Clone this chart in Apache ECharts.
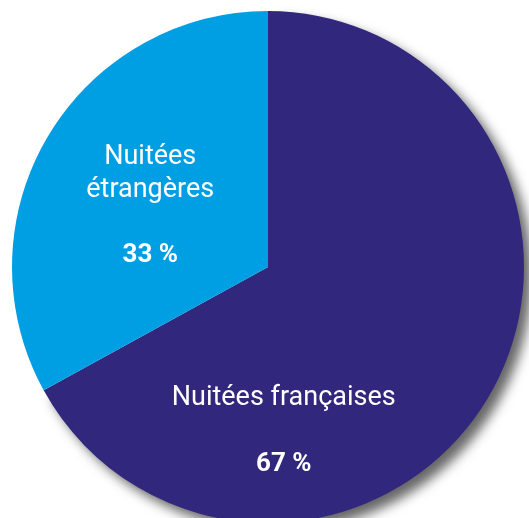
<!DOCTYPE html>
<html>
<head>
<meta charset="utf-8">
<script src="https://cdn.jsdelivr.net/npm/echarts@6/dist/echarts.min.js"></script>
<style>
  html, body { margin: 0; padding: 0; background: #fff; }
  #chart { width: 529px; height: 518px; }
</style>
</head>
<body>
<div id="chart"></div>
<script>
// categories and shares (%)
var categories = ["Nuitées françaises", "Nuitées étrangères"];
var shares = [67, 33];
var colors = ["#31287e", "#009fe3"];

var chart = echarts.init(document.getElementById("chart"));

var richStyle = {
  n: { color: "#fff", fontFamily: "Roboto", fontSize: 27, lineHeight: 33 },
  s: { fontSize: 10, lineHeight: 33 },
  p: { color: "#fff", fontFamily: "Roboto", fontWeight: "bold", fontSize: 26, lineHeight: 33 }
};

var data = [
  {
    name: categories[0],
    value: shares[0],
    itemStyle: {
      color: colors[0],
      shadowColor: "rgba(0,0,0,0.6)",
      shadowBlur: 12,
      shadowOffsetX: 8,
      shadowOffsetY: 8
    },
    label: {
      offset: [-97, 98],
      formatter: function (p) {
        return "{n|" + p.name + "}\n{s| }\n{p|" + p.value + " %}";
      }
    }
  },
  {
    name: categories[1],
    value: shares[1],
    itemStyle: { color: colors[1] },
    label: {
      offset: [-5, 6],
      formatter: function (p) {
        var parts = p.name.split(" ");
        return "{n|" + parts[0] + "}\n{n|" + parts[1] + "}\n{s| }\n{p|" + p.value + " %}";
      }
    }
  }
];

chart.setOption({
  animation: false,
  series: [
    {
      type: "pie",
      center: [268, 267],
      radius: 256,
      startAngle: 90,
      clockwise: true,
      label: {
        show: true,
        position: "inside",
        align: "center",
        rich: richStyle
      },
      labelLine: { show: false },
      emphasis: { disabled: true },
      data: data
    }
  ]
});
</script>
</body>
</html>
